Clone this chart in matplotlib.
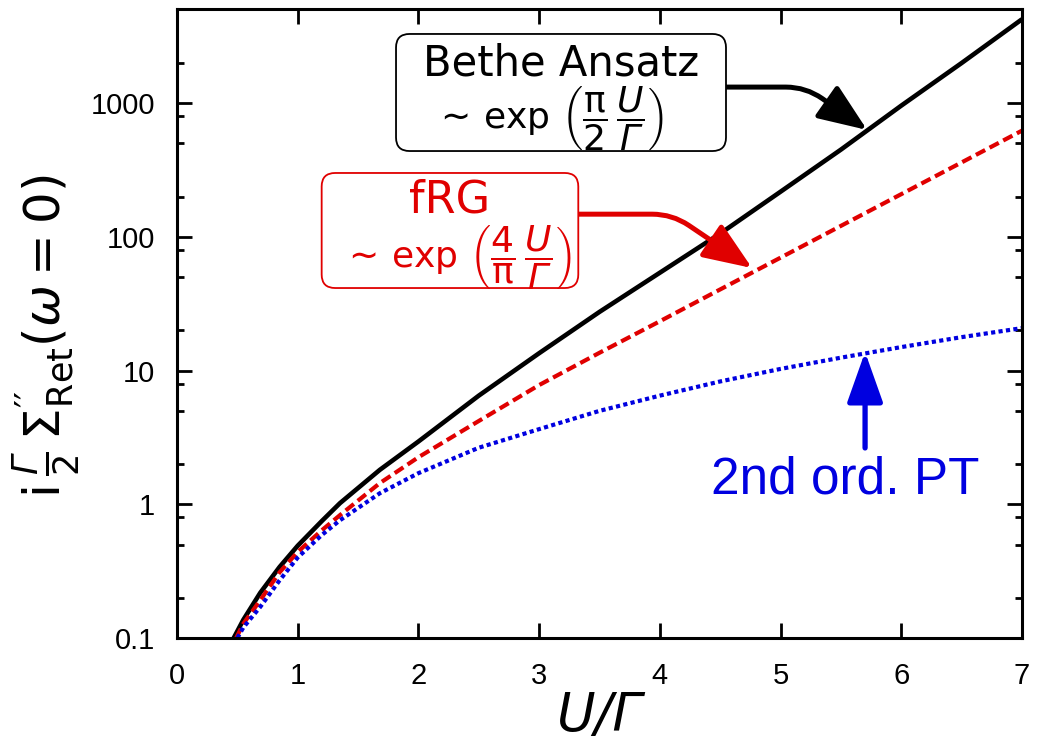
import matplotlib
matplotlib.use("Agg")
import matplotlib.pyplot as plt
from matplotlib.ticker import FixedLocator, NullFormatter
from matplotlib.patches import FancyBboxPatch

# ---- data ----
u_ba = [0.47, 0.55, 0.69, 0.85, 1.0, 1.2, 1.35, 1.68, 2.0, 2.5, 3.0, 3.5, 4.0, 4.5, 5.0, 5.5, 6.0, 6.5, 7.0]
sigma_ba = [0.1, 0.137, 0.218, 0.34, 0.49, 0.75, 1.02, 1.81, 2.95, 6.5, 13.5, 27.5, 54, 106, 218, 450, 960, 2000, 4250]

u_frg = [0.49, 0.55, 0.69, 0.85, 1.0, 1.2, 1.35, 1.68, 2.0, 2.5, 3.0, 3.5, 4.0, 4.5, 5.0, 5.5, 6.0, 6.5, 7.0]
sigma_frg = [0.1, 0.128, 0.192, 0.31, 0.44, 0.64, 0.83, 1.44, 2.25, 4.2, 7.8, 13.6, 23.4, 40.5, 70, 121, 209, 361, 624]

u_pt = [0.50, 0.55, 0.69, 0.85, 1.0, 1.2, 1.35, 1.68, 2.0, 2.5, 3.0, 3.5, 4.0, 4.5, 5.0, 5.5, 6.0, 6.5, 7.0]
sigma_pt = [0.1, 0.12, 0.171, 0.27, 0.40, 0.59, 0.76, 1.21, 1.71, 2.65, 3.65, 5.0, 6.5, 8.3, 10.3, 12.5, 15.0, 17.8, 20.8]

x_ticks = [0, 1, 2, 3, 4, 5, 6, 7]
y_ticks = [0.1, 1, 10, 100, 1000]
y_tick_labels = ["0.1", "1", "10", "100", "1000"]
y_minor = [0.2, 0.5, 0.8, 2, 5, 8, 20, 50, 80, 200, 500, 800, 2000]

title_ba = "Bethe Ansatz"
formula_ba = r"$\sim\,\exp\,\left(\dfrac{\mathrm{\pi}}{2}\,\dfrac{U}{\mathsf{\Gamma}}\right)$"
title_frg = "fRG"
formula_frg = r"$\sim\,\exp\,\left(\dfrac{4}{\mathrm{\pi}}\,\dfrac{U}{\mathsf{\Gamma}}\right)$"
label_pt = "2nd ord. PT"
x_label = "U/Γ"
y_label = r"$\mathrm{i}\,\frac{\mathsf{\Gamma}}{2}\,\Sigma^{\prime\prime}_{\mathrm{Ret}}(\omega=0)$"

RED = "#e00000"
BLUE = "#0000e0"

plt.rcParams["font.family"] = ["Liberation Sans", "DejaVu Sans"]
plt.rcParams["mathtext.fontset"] = "custom"
plt.rcParams["mathtext.rm"] = "DejaVu Sans"
plt.rcParams["mathtext.it"] = "DejaVu Sans:italic"
plt.rcParams["mathtext.sf"] = "DejaVu Sans:italic"
plt.rcParams["mathtext.bf"] = "DejaVu Sans:bold"
plt.rcParams["mathtext.fallback"] = "cm"

fig = plt.figure(figsize=(10.4, 7.48), dpi=100)
ax = fig.add_axes([177/1040, 1-638/748, 845/1040, 629/748])

ax.plot(u_ba, sigma_ba, color="black", lw=3.3, solid_capstyle="butt")
ax.plot(u_frg, sigma_frg, color=RED, lw=3.0, linestyle=(0, (2.5, 1.2)))
ax.plot(u_pt, sigma_pt, color=BLUE, lw=3.0, linestyle=(0, (1.0, 0.8)))

ax.set_yscale("log")
ax.set_xlim(0, 7)
ax.set_ylim(0.1, 5070)
ax.set_xticks(x_ticks)
ax.set_xticklabels([str(t) for t in x_ticks])
ax.yaxis.set_major_locator(FixedLocator(y_ticks))
ax.set_yticklabels(y_tick_labels)
ax.yaxis.set_minor_locator(FixedLocator(y_minor))
ax.yaxis.set_minor_formatter(NullFormatter())
ax.xaxis.set_minor_locator(FixedLocator([]))

ax.tick_params(which="both", direction="in", top=True, right=True, width=2.0, labelsize=21)
ax.tick_params(which="major", length=11)
ax.tick_params(which="minor", length=5)
ax.tick_params(axis="y", pad=16)
ax.tick_params(axis="x", pad=17)
for s in ax.spines.values():
    s.set_linewidth(2.2)

ax.set_xlabel(x_label, fontsize=38, fontstyle="italic", family="DejaVu Sans", labelpad=0)
ax.set_ylabel(y_label, fontsize=36)
ax.yaxis.set_label_coords(-0.111, 0.479)

# annotation boxes (axes-fraction layout)
asp = 845 / 629
ax.add_patch(FancyBboxPatch((0.2592, 0.7742), 0.6497 - 0.2592, 0.9603 - 0.7742,
                            boxstyle="round,pad=0,rounding_size=0.016", mutation_aspect=asp,
                            transform=ax.transAxes, fc="white", ec="black", lw=1.3, zorder=4))
ax.text(0.4544, 0.895, title_ba, transform=ax.transAxes, ha="center", va="baseline",
        fontsize=30, family="DejaVu Sans", color="black", zorder=5)
ax.text(0.439, 0.826, formula_ba, transform=ax.transAxes, ha="center", va="center",
        fontsize=26, family="DejaVu Sans", color="black", zorder=5)

ax.add_patch(FancyBboxPatch((0.1712, 0.5564), 0.4749 - 0.1712, 0.7393 - 0.5564,
                            boxstyle="round,pad=0,rounding_size=0.016", mutation_aspect=asp,
                            transform=ax.transAxes, fc="white", ec=RED, lw=1.3, zorder=4))
ax.text(0.323, 0.676, title_frg, transform=ax.transAxes, ha="center", va="baseline",
        fontsize=32, family="DejaVu Sans", color=RED, zorder=5)
ax.text(0.330, 0.605, formula_frg, transform=ax.transAxes, ha="center", va="center",
        fontsize=26, family="DejaVu Sans", color=RED, zorder=5)

# arrows
ax.annotate("", xy=(5.717, 631), xytext=(4.55, 1321),
            arrowprops=dict(arrowstyle="-|>,head_length=1.5,head_width=0.6",
                            connectionstyle="angle,angleA=0,angleB=145,rad=20",
                            lw=3.6, color="black", shrinkA=0, shrinkB=0, mutation_scale=20))
ax.annotate("", xy=(4.764, 58.5), xytext=(3.32, 148),
            arrowprops=dict(arrowstyle="-|>,head_length=1.5,head_width=0.6",
                            connectionstyle="angle,angleA=0,angleB=146,rad=20",
                            lw=3.6, color=RED, shrinkA=0, shrinkB=0, mutation_scale=20))
ax.annotate("", xy=(5.70, 13.8), xytext=(5.70, 2.64),
            arrowprops=dict(arrowstyle="-|>,head_length=1.55,head_width=0.55",
                            lw=3.8, color=BLUE, shrinkA=0, shrinkB=0, mutation_scale=20))
ax.text(5.534, 1.215, label_pt, ha="center", va="baseline", fontsize=37, color=BLUE,
        family="Liberation Sans")

fig.savefig("out.png", dpi=100)
